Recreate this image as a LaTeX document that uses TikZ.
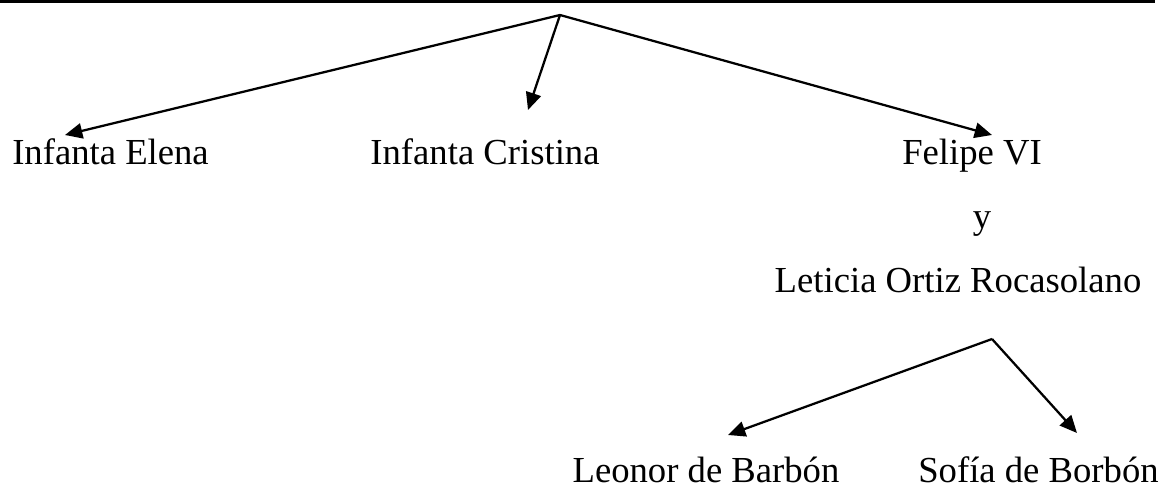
\documentclass[tikz,border=0pt]{standalone}
\usepackage{fontspec}
\setmainfont{Liberation Serif}
\usetikzlibrary{arrows.meta}

\begin{document}
\begin{tikzpicture}[x=0.75pt,y=-0.75pt,
  member/.style={anchor=base,inner sep=0pt,font=\fontsize{27.5}{33}\selectfont},
  link/.style={line width=1.7pt,-{Triangle[length=13pt,width=11.5pt]}}]
  \useasboundingbox (0,0) rectangle (1165,489);

  % Draw the line on top
  \draw[line width=2.6pt] (0,1) -- (1155,1);

  % Place the names
  \node[member] (elena) at (110.5,164) {Infanta Elena};
  \node[member] (cristina) at (485,164) {Infanta Cristina};
  \node[member] (felipe) at (972,164) {Felipe VI};
  \node[member] (y) at (982,228) {y};
  \node[member] (leticia) at (958,292) {Leticia Ortiz Rocasolano};
  \node[member] (leonor) at (706,482) {Leonor de Barbón};
  \node[member] (sofia) at (1038.5,482) {Sofía de Borbón};

  % Points where the arrows start and end
  \coordinate (top) at (560,15);
  \coordinate (couple) at (992,339);
  \coordinate (elena tip) at (65,135);
  \coordinate (cristina tip) at (528,110);
  \coordinate (felipe tip) at (992,135);
  \coordinate (leonor tip) at (728,435);
  \coordinate (sofia tip) at (1077,433);

  % Draw the arrows
  \draw[link] (top) -- (elena tip);
  \draw[link] (top) -- (cristina tip);
  \draw[link] (top) -- (felipe tip);
  \draw[link] (couple) -- (leonor tip);
  \draw[link] (couple) -- (sofia tip);
\end{tikzpicture}
\end{document}
